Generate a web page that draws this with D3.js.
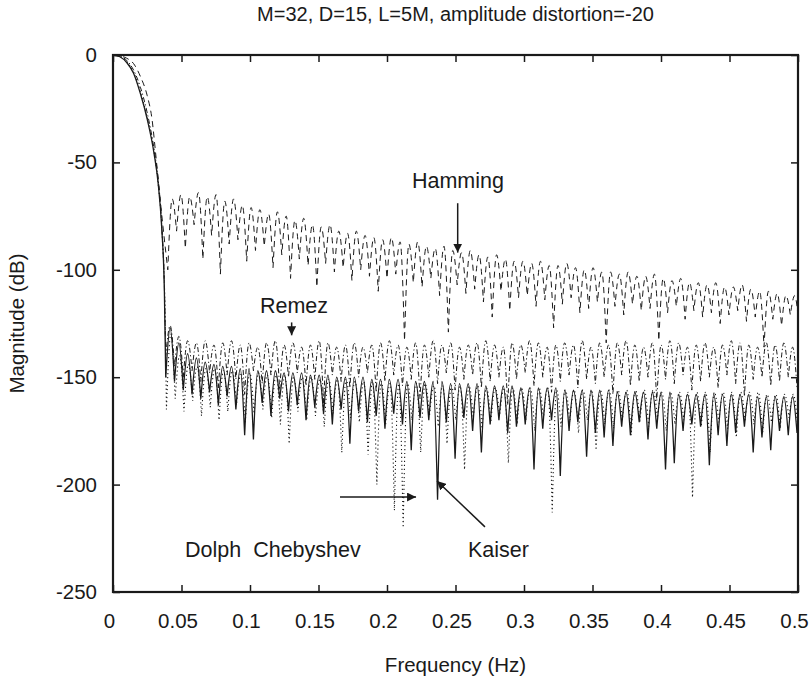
<!DOCTYPE html>
<html>
<head>
<meta charset="utf-8">
<script src="https://cdnjs.cloudflare.com/ajax/libs/d3/7.8.5/d3.min.js"></script>
<style>
body{margin:0;background:#fff;}
text{font-family:"Liberation Sans",Arial,sans-serif;fill:#1a1a1a;}
</style>
</head>
<body>
<div id="chart"></div>
<script>
'use strict'
// axis ticks
let xTicks = [0, 0.05, 0.1, 0.15, 0.2, 0.25, 0.3, 0.35, 0.4, 0.45, 0.5];
let yTicks = [0, -50, -100, -150, -200, -250];

// every window shares the same sidelobe spacing (Hz)
let lobeStep = 0.0064;

// main lobes [freq, dB]
let hammingMain = [[0,0],[0.005,-0.3],[0.01,-1.5],[0.015,-4],[0.02,-10],[0.025,-19],[0.0285,-30],[0.031,-45],[0.033,-58],[0.0365,-80]];
let remezMain   = [[0,0],[0.005,-0.5],[0.01,-2.5],[0.015,-7],[0.02,-15],[0.025,-27],[0.03,-44],[0.033,-58],[0.0355,-78],[0.0375,-108]];
let kaiserMain  = [[0,0],[0.005,-0.8],[0.01,-3.5],[0.015,-8.5],[0.02,-18],[0.025,-30],[0.03,-46],[0.033,-60],[0.0355,-80],[0.0375,-110]];
let dolphMain   = [[0,0],[0.005,-0.6],[0.01,-3],[0.015,-8],[0.02,-17],[0.025,-29],[0.03,-45],[0.033,-60],[0.036,-85],[0.038,-120]];

// first null of each design (Hz)
let hammingStart = 0.040;
let remezStart = 0.0385;
let kaiserStart = 0.0385;
let dolphStart = 0.039;

// sidelobe peaks (dB), one per lobe
let hammingPeaks = [-67,-65,-66,-64,-66,-65,-68,-67,-70,-71,
  -72,-74,-73,-75,-77,-76,-79,-80,-79,-82,
  -83,-82,-84,-85,-86,-85,-87,-88,-87,-89,
  -90,-89,-91,-92,-91,-93,-94,-93,-95,-96,
  -96,-97,-96,-98,-98,-97,-99,-100,-99,-101,
  -101,-102,-101,-103,-103,-102,-104,-105,-104,-106,
  -106,-107,-106,-108,-108,-107,-109,-110,-110,-111,-112,-112];
let remezPeaks = [-126,-131,-133,-134,-133,-135,-134,-133,-135,-134,
  -136,-134,-133,-135,-134,-136,-135,-133,-134,-136,
  -135,-134,-136,-135,-134,-133,-135,-136,-134,-135,
  -133,-135,-134,-136,-135,-134,-133,-135,-136,-134,
  -135,-133,-134,-136,-135,-134,-135,-133,-136,-134,
  -135,-134,-133,-135,-136,-134,-135,-133,-134,-136,
  -135,-134,-136,-135,-133,-134,-135,-136,-134,-135,-134,-136];
let kaiserPeaks = [-127,-134,-139,-141,-143,-144,-145,-145,-146,-146,
  -147,-147,-147,-148,-148,-148,-149,-149,-149,-150,
  -150,-150,-150,-151,-151,-151,-151,-152,-152,-152,
  -152,-152,-153,-153,-153,-153,-154,-154,-154,-154,
  -155,-155,-155,-155,-155,-156,-156,-156,-156,-156,
  -156,-157,-157,-157,-157,-157,-157,-157,-158,-158,
  -158,-158,-158,-158,-158,-158,-158,-159,-159,-159,-159,-159];
let dolphPeaks = [-130,-140,-144,-145,-146,-146,-147,-147,-148,-148,
  -148,-149,-149,-149,-150,-150,-150,-151,-151,-151,
  -151,-152,-152,-152,-152,-153,-153,-153,-153,-153,
  -154,-154,-154,-154,-154,-154,-155,-155,-155,-155,
  -155,-155,-155,-155,-156,-156,-156,-156,-156,-156,
  -156,-156,-156,-156,-156,-156,-157,-157,-157,-157,
  -157,-157,-157,-157,-157,-157,-157,-157,-158,-158,-158,-158];

// null depths (dB), one more than the peaks
let hammingNulls = [-100,
  -82,-90,-79,-95,-84,-102,-88,-86,-96,-91,
  -89,-99,-93,-104,-95,-98,-108,-97,-101,-99,
  -105,-100,-103,-110,-104,-102,-133,-106,-108,-104,
  -112,-129,-107,-111,-109,-115,-122,-110,-119,-113,
  -112,-117,-114,-127,-116,-113,-120,-118,-115,-134,
  -117,-121,-116,-119,-118,-133,-120,-117,-123,-119,
  -122,-120,-125,-121,-119,-124,-122,-136,-123,-126,-121,-127];
let remezNulls = [-140,
  -145,-150,-147,-152,-148,-155,-149,-151,-158,-147,
  -153,-149,-156,-150,-148,-154,-151,-162,-149,-152,
  -155,-150,-148,-157,-152,-149,-154,-151,-160,-150,
  -153,-148,-156,-151,-149,-155,-152,-150,-163,-151,
  -148,-154,-150,-157,-152,-149,-155,-151,-153,-150,
  -158,-149,-154,-152,-150,-161,-151,-153,-149,-156,
  -152,-150,-155,-149,-153,-159,-151,-150,-154,-152,-150,-155];
let kaiserNulls = [-150,
  -152,-156,-158,-160,-157,-163,-159,-165,-177,-179,
  -162,-168,-160,-166,-163,-170,-164,-167,-172,-165,
  -181,-166,-171,-168,-174,-167,-172,-184,-169,-170,
  -207,-171,-188,-169,-175,-185,-172,-170,-176,-173,
  -172,-193,-174,-170,-196,-175,-171,-187,-176,-178,
  -182,-173,-177,-171,-179,-174,-193,-190,-175,-172,
  -173,-191,-177,-182,-176,-173,-185,-178,-184,-175,-177,-176];
let dolphNulls = [-165,
  -160,-166,-161,-168,-164,-170,-166,-163,-171,-167,
  -165,-169,-172,-181,-166,-170,-168,-173,-167,-185,
  -169,-171,-186,-200,-172,-212,-220,-170,-185,-168,
  -173,-181,-170,-193,-169,-174,-171,-168,-190,-172,
  -170,-175,-169,-213,-173,-171,-176,-170,-184,-172,
  -174,-170,-177,-171,-173,-169,-175,-172,-170,-206,
  -173,-185,-171,-174,-178,-170,-172,-176,-171,-174,-169,-173];

let margin = {top: 55, right: 13, bottom: 87, left: 113}
  , width = 811 - margin.left - margin.right
  , height = 679 - margin.top - margin.bottom;

let x = d3.scaleLinear().domain([0, 0.5]).range([0, width]);
let y = d3.scaleLinear().domain([-250, 0]).range([height, 0]);

let svg = d3.select('#chart')
  .append('svg')
  .attr('width', 811)
  .attr('height', 679);
let g = svg.append('g').attr('transform', 'translate(' + margin.left + ',' + margin.top + ')');

g.append('clipPath').attr('id', 'plot-clip')
  .append('rect').attr('width', width).attr('height', height);

let line = d3.line().x(d => x(d[0])).y(d => y(d[1])).curve(d3.curveMonotoneX);

// main lobe, then one arch per sidelobe, stitched into one path
function responsePath(main, start, peaks, nulls) {
  let d = line(main.concat([[start, nulls[0]]]));
  peaks.forEach(function(p, k) {
    let seg = line([[start + k*lobeStep, nulls[k]], [start + (k+0.5)*lobeStep, p], [start + (k+1)*lobeStep, nulls[k+1]]]);
    d += seg.replace(/^M[^C]*/, '');
  });
  return d;
}

let series = [
  {name: 'Hamming', main: hammingMain, start: hammingStart, peaks: hammingPeaks, nulls: hammingNulls, dash: '6,4.5', w: 1.0},
  {name: 'Remez', main: remezMain, start: remezStart, peaks: remezPeaks, nulls: remezNulls, dash: '5,2.5,1.2,2.5', w: 1.0},
  {name: 'Dolph Chebyshev', main: dolphMain, start: dolphStart, peaks: dolphPeaks, nulls: dolphNulls, dash: '1.2,2.8', w: 1.1},
  {name: 'Kaiser', main: kaiserMain, start: kaiserStart, peaks: kaiserPeaks, nulls: kaiserNulls, dash: null, w: 1.3}
];

g.append('g').attr('clip-path', 'url(#plot-clip)')
  .selectAll('path')
  .data(series)
  .enter().append('path')
  .attr('d', s => responsePath(s.main, s.start, s.peaks, s.nulls))
  .attr('fill', 'none')
  .attr('stroke', '#1a1a1a')
  .attr('stroke-width', s => s.w)
  .attr('stroke-dasharray', s => s.dash);

// axes, ticks inside on all four sides
let plain = d => String(d);
let xAxis = d3.axisBottom(x).tickValues(xTicks).tickSize(-7).tickPadding(21).tickFormat(plain);
let yAxis = d3.axisLeft(y).tickValues(yTicks).tickSize(-7).tickPadding(16).tickFormat(plain);

let xAxisGroup = g.append('g').attr('transform', 'translate(0,' + height + ')').call(xAxis);
let yAxisGroup = g.append('g').call(yAxis);
g.append('g').call(d3.axisTop(x).tickValues(xTicks).tickSize(-7).tickFormat(''));
g.append('g').attr('transform', 'translate(' + width + ',0)').call(d3.axisRight(y).tickValues(yTicks).tickSize(-7).tickFormat(''));

g.selectAll('.domain').remove();
g.selectAll('.tick line').attr('stroke', '#1a1a1a').attr('stroke-width', 1.5);
g.selectAll('.tick text').attr('font-size', 20.5).attr('fill', '#1a1a1a')
  .attr('font-family', '"Liberation Sans",Arial,sans-serif');
xAxisGroup.selectAll('.tick text').attr('dx', -4);

g.append('rect')
  .attr('width', width).attr('height', height)
  .attr('fill', 'none').attr('stroke', '#1a1a1a').attr('stroke-width', 2.2);

// titles
svg.append('text').attr('x', margin.left + width/2).attr('y', 21)
  .attr('text-anchor', 'middle').attr('font-size', 20)
  .text('M=32, D=15, L=5M, amplitude distortion=-20');
svg.append('text').attr('x', margin.left + width/2).attr('y', 672)
  .attr('text-anchor', 'middle').attr('font-size', 20.5)
  .text('Frequency (Hz)');
svg.append('text').attr('transform', 'translate(24,' + (margin.top + height/2) + ') rotate(-90)')
  .attr('text-anchor', 'middle').attr('font-size', 20.5)
  .text('Magnitude (dB)');

// annotations
svg.append('defs').append('marker')
  .attr('id', 'head').attr('viewBox', '0 0 10 10').attr('refX', 10).attr('refY', 5)
  .attr('markerWidth', 9).attr('markerHeight', 9).attr('markerUnits', 'userSpaceOnUse')
  .attr('orient', 'auto')
  .append('path').attr('d', 'M0,0L10,5L0,10z').attr('fill', '#1a1a1a');

let labels = [
  {text: 'Hamming', f: 0.2518, db: -62, anchor: 'middle'},
  {text: 'Remez', f: 0.1321, db: -120, anchor: 'middle'},
  {text: 'Dolph  Chebyshev', f: 0.0526, db: -233.7, anchor: 'start'},
  {text: 'Kaiser', f: 0.2591, db: -233.7, anchor: 'start'}
];
let arrows = [
  [[0.2516, -69], [0.2516, -92]],
  [[0.1304, -124.5], [0.1304, -130.5]],
  [[0.1657, -205.8], [0.2212, -205.8]],
  [[0.2715, -219.7], [0.2365, -198.3]]
];

g.selectAll('.label')
  .data(labels)
  .enter().append('text')
  .attr('class', 'label')
  .attr('x', d => x(d.f)).attr('y', d => y(d.db))
  .attr('text-anchor', d => d.anchor)
  .attr('font-size', 21.5)
  .style('white-space', 'pre')
  .text(d => d.text);

g.selectAll('.arrow')
  .data(arrows)
  .enter().append('line')
  .attr('class', 'arrow')
  .attr('x1', d => x(d[0][0])).attr('y1', d => y(d[0][1]))
  .attr('x2', d => x(d[1][0])).attr('y2', d => y(d[1][1]))
  .attr('stroke', '#1a1a1a').attr('stroke-width', 1.5)
  .attr('marker-end', 'url(#head)');
</script>
</body>
</html>
